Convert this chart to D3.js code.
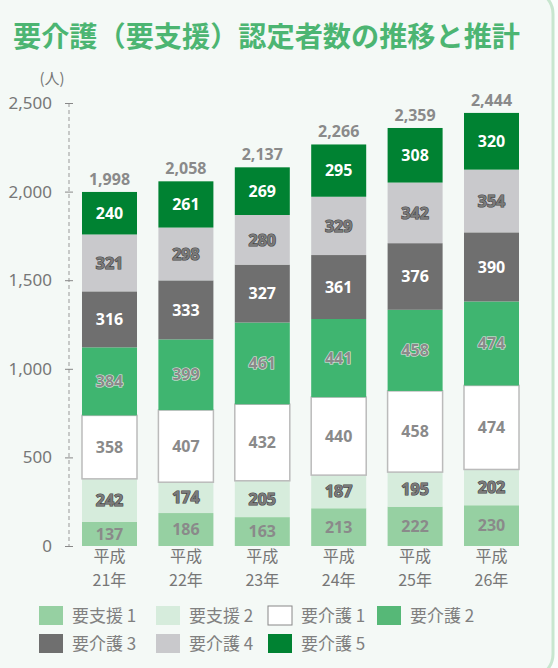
<!DOCTYPE html>
<html lang="ja">
<head>
<meta charset="UTF-8">
<title>要介護(要支援)認定者数の推移と推計</title>
<script src="https://d3js.org/d3.v7.min.js"></script>
<style>
  body { margin: 0; background: #fbfdfc; }
  svg { display: block; font-family: "Noto Sans CJK JP", "Noto Sans", sans-serif; }
</style>
</head>
<body>
<svg id="chart" width="558" height="668"></svg>
<script>
const years = ["平成21年", "平成22年", "平成23年", "平成24年", "平成25年", "平成26年"];
const seriesNames = ["要支援 1", "要支援 2", "要介護 1", "要介護 2", "要介護 3", "要介護 4", "要介護 5"];
const shien1 = [137, 186, 163, 213, 222, 230];
const shien2 = [242, 174, 205, 187, 195, 202];
const kaigo1 = [358, 407, 432, 440, 458, 474];
const kaigo2 = [384, 399, 461, 441, 458, 474];
const kaigo3 = [316, 333, 327, 361, 376, 390];
const kaigo4 = [321, 298, 280, 329, 342, 354];
const kaigo5 = [240, 261, 269, 295, 308, 320];
const totals = [1998, 2058, 2137, 2266, 2359, 2444];
const yTicks = [0, 500, 1000, 1500, 2000, 2500];

const values = [shien1, shien2, kaigo1, kaigo2, kaigo3, kaigo4, kaigo5];
const fills = ["#96d0a2", "#d6ecdc", "#ffffff", "#3fb570", "#6f6f6f", "#c9c9cc", "#008232"];
const legendFills = ["#96d0a2", "#d6ecdc", "#ffffff", "#56b877", "#6f6f6f", "#c9c9cc", "#008232"];
// label style per series: fill, stroke
const labelStyle = [
  {fill: "#8a8a8a", stroke: "none"},
  {fill: "#7a7a7a", stroke: "#444"},
  {fill: "#8a8a8a", stroke: "none"},
  {fill: "#8a8a8a", stroke: "#e6e6e6"},
  {fill: "#ffffff", stroke: "none"},
  {fill: "#7a7a7a", stroke: "#444"},
  {fill: "#ffffff", stroke: "none"}
];

const svg = d3.select("#chart");

// card
svg.append("rect")
  .attr("x", -30).attr("y", -10).attr("width", 583).attr("height", 688)
  .attr("rx", 24)
  .attr("fill", "#f4f9f6").attr("stroke", "#c8e6cf").attr("stroke-width", 3);

svg.append("text")
  .attr("x", 13).attr("y", 47)
  .attr("font-size", 28).attr("font-weight", 700).attr("fill", "#4cb572")
  .attr("textLength", 507).attr("lengthAdjust", "spacingAndGlyphs")
  .text("要介護（要支援）認定者数の推移と推計");

const x = d3.scaleBand().domain(years).range([71.3, 529.7])
  .paddingInner(0.28).paddingOuter(0.14);
const y = d3.scaleLinear().domain([0, 2500]).range([546, 103]);

// y axis
svg.append("line")
  .attr("x1", 69).attr("x2", 69).attr("y1", y(2500)).attr("y2", y(0))
  .attr("stroke", "#999").attr("stroke-dasharray", "4,3");

const yAxis = svg.append("g").attr("transform", "translate(69,0)")
  .call(d3.axisLeft(y).tickValues(yTicks).tickSize(4).tickPadding(13)
    .tickFormat(d3.format(",")));
yAxis.select(".domain").remove();
yAxis.selectAll(".tick line").attr("x1", -4).attr("x2", 4).attr("stroke", "#888");
yAxis.selectAll(".tick text")
  .attr("font-size", 17).attr("fill", "#777")
  .attr("font-family", "'Noto Sans', sans-serif");

svg.append("text")
  .attr("x", 52).attr("y", 84).attr("text-anchor", "middle")
  .attr("font-size", 15).attr("fill", "#777").text("(人)");

// stacked data
const rows = years.map((yr, i) => {
  const r = {year: yr};
  seriesNames.forEach((s, k) => { r[s] = values[k][i]; });
  return r;
});
const stack = d3.stack().keys(seriesNames)(rows);

const layers = svg.append("g").selectAll("g")
  .data(stack).join("g");

layers.each(function(layer, k) {
  const g = d3.select(this);
  g.selectAll("rect").data(layer).join("rect")
    .attr("x", d => x(d.data.year))
    .attr("y", d => y(d[1]))
    .attr("width", x.bandwidth())
    .attr("height", d => y(d[0]) - y(d[1]))
    .attr("fill", fills[k])
    .attr("stroke", k === 2 ? "#bbbbbb" : "none")
    .attr("stroke-width", 1.5);
  g.selectAll("text").data(layer).join("text")
    .attr("x", d => x(d.data.year) + x.bandwidth() / 2)
    .attr("y", d => (y(d[0]) + y(d[1])) / 2)
    .attr("dy", "0.36em")
    .attr("text-anchor", "middle")
    .attr("font-family", "'Noto Sans', sans-serif")
    .attr("font-size", 16).attr("font-weight", 700)
    .attr("fill", labelStyle[k].fill)
    .attr("stroke", labelStyle[k].stroke)
    .attr("stroke-width", labelStyle[k].stroke === "none" ? 0 : 1.2)
    .attr("paint-order", "stroke")
    .text(d => d.data[seriesNames[k]]);
});

// totals
svg.append("g").selectAll("text").data(years).join("text")
  .attr("x", d => x(d) + x.bandwidth() / 2)
  .attr("y", (d, i) => y(totals[i]) - 7)
  .attr("text-anchor", "middle")
  .attr("font-family", "'Noto Sans', sans-serif")
  .attr("font-size", 16).attr("font-weight", 700).attr("fill", "#8a8a8a")
  .text((d, i) => d3.format(",")(totals[i]));

// x labels, two lines each
const xLab = svg.append("g").attr("font-size", 16).attr("fill", "#777")
  .attr("text-anchor", "middle");
xLab.selectAll("text.era").data(years).join("text").attr("class", "era")
  .attr("x", d => x(d) + x.bandwidth() / 2).attr("y", 562)
  .text(d => d.slice(0, 2));
xLab.selectAll("text.yr").data(years).join("text").attr("class", "yr")
  .attr("x", d => x(d) + x.bandwidth() / 2).attr("y", 586)
  .text(d => d.slice(2));

// legend
const legX = [39, 156, 268, 377];
const legend = svg.append("g").selectAll("g").data(seriesNames).join("g")
  .attr("transform", (d, i) => `translate(${legX[i % 4]},${i < 4 ? 606 : 634})`);
legend.append("rect")
  .attr("width", 24).attr("height", 19)
  .attr("fill", (d, i) => legendFills[i])
  .attr("stroke", (d, i) => i === 2 ? "#888" : "none");
legend.append("text")
  .attr("x", 33).attr("y", 16)
  .attr("font-size", 17).attr("fill", "#808080")
  .text(d => d);
</script>
</body>
</html>
